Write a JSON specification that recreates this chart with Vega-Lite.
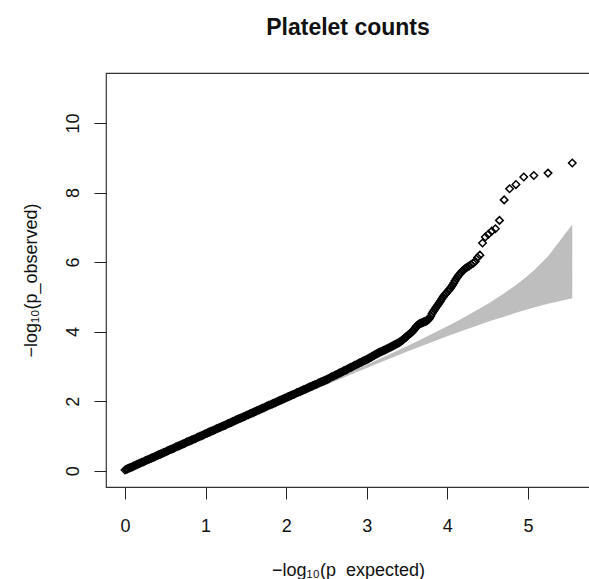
{
  "$schema": "https://vega.github.io/schema/vega-lite/v6.json",
  "autosize": "none",
  "padding": {"left": 106, "top": 73, "right": 0, "bottom": 92},
  "width": 484,
  "height": 414,
  "title": {"text": "Platelet counts", "font": "Liberation Sans", "fontSize": 23, "fontWeight": "bold", "color": "#111", "anchor": "middle", "offset": 33},
  "config": {
    "view": {"stroke": "#333", "strokeWidth": 1.2},
    "axis": {"domain": false, "grid": false, "ticks": true, "tickColor": "#222", "tickSize": 12, "tickWidth": 1,
      "labelFont": "Liberation Sans", "labelFontSize": 18, "labelColor": "#111",
      "titleFont": "Liberation Sans", "titleFontSize": 18, "titleFontWeight": "normal", "titleColor": "#111"}
  },
  "datasets": {
    "band": [
      {"x": 0, "lo": 0, "hi": 0},
      {"x": 1.55, "lo": 1.5415, "hi": 1.5585},
      {"x": 2.0, "lo": 1.986, "hi": 2.014},
      {"x": 2.55, "lo": 2.524, "hi": 2.578},
      {"x": 3.073, "lo": 3.025, "hi": 3.1235},
      {"x": 3.249, "lo": 3.191, "hi": 3.31},
      {"x": 3.55, "lo": 3.469, "hi": 3.639},
      {"x": 3.851, "lo": 3.738, "hi": 3.981},
      {"x": 4.073, "lo": 3.929, "hi": 4.244},
      {"x": 4.249, "lo": 4.078, "hi": 4.463},
      {"x": 4.374, "lo": 4.179, "hi": 4.626},
      {"x": 4.55, "lo": 4.318, "hi": 4.869},
      {"x": 4.705, "lo": 4.431, "hi": 5.101},
      {"x": 4.851, "lo": 4.54, "hi": 5.34},
      {"x": 4.948, "lo": 4.607, "hi": 5.513},
      {"x": 5.073, "lo": 4.691, "hi": 5.759},
      {"x": 5.249, "lo": 4.804, "hi": 6.166},
      {"x": 5.55, "lo": 4.96, "hi": 7.08}
    ],
    "pts": [
      {"x": 0.00, "y": 0.02}, {"x": 0.03, "y": 0.05}, {"x": 0.06, "y": 0.08}, {"x": 0.09, "y": 0.11}, {"x": 0.12, "y": 0.14},
      {"x": 0.15, "y": 0.18}, {"x": 0.18, "y": 0.21}, {"x": 0.21, "y": 0.24}, {"x": 0.24, "y": 0.27}, {"x": 0.27, "y": 0.30},
      {"x": 0.30, "y": 0.33}, {"x": 0.33, "y": 0.36}, {"x": 0.36, "y": 0.39}, {"x": 0.39, "y": 0.43}, {"x": 0.42, "y": 0.46},
      {"x": 0.45, "y": 0.49}, {"x": 0.48, "y": 0.52}, {"x": 0.51, "y": 0.55}, {"x": 0.54, "y": 0.58}, {"x": 0.57, "y": 0.61},
      {"x": 0.60, "y": 0.64}, {"x": 0.63, "y": 0.68}, {"x": 0.66, "y": 0.71}, {"x": 0.69, "y": 0.74}, {"x": 0.72, "y": 0.77},
      {"x": 0.75, "y": 0.80}, {"x": 0.78, "y": 0.83}, {"x": 0.81, "y": 0.86}, {"x": 0.84, "y": 0.89}, {"x": 0.87, "y": 0.92},
      {"x": 0.90, "y": 0.96}, {"x": 0.93, "y": 0.99}, {"x": 0.96, "y": 1.02}, {"x": 0.99, "y": 1.05}, {"x": 1.02, "y": 1.08},
      {"x": 1.05, "y": 1.11}, {"x": 1.08, "y": 1.14}, {"x": 1.11, "y": 1.17}, {"x": 1.14, "y": 1.21}, {"x": 1.17, "y": 1.24},
      {"x": 1.20, "y": 1.27}, {"x": 1.23, "y": 1.30}, {"x": 1.26, "y": 1.33}, {"x": 1.29, "y": 1.36}, {"x": 1.32, "y": 1.39},
      {"x": 1.35, "y": 1.42}, {"x": 1.38, "y": 1.46}, {"x": 1.41, "y": 1.49}, {"x": 1.44, "y": 1.52}, {"x": 1.47, "y": 1.55},
      {"x": 1.50, "y": 1.58}, {"x": 1.53, "y": 1.61}, {"x": 1.56, "y": 1.64}, {"x": 1.59, "y": 1.67}, {"x": 1.62, "y": 1.70},
      {"x": 1.65, "y": 1.74}, {"x": 1.68, "y": 1.77}, {"x": 1.71, "y": 1.80}, {"x": 1.74, "y": 1.83}, {"x": 1.77, "y": 1.86},
      {"x": 1.80, "y": 1.89}, {"x": 1.83, "y": 1.92}, {"x": 1.86, "y": 1.95}, {"x": 1.89, "y": 1.99}, {"x": 1.92, "y": 2.02},
      {"x": 1.95, "y": 2.05}, {"x": 1.98, "y": 2.08}, {"x": 2.01, "y": 2.11}, {"x": 2.04, "y": 2.14}, {"x": 2.07, "y": 2.17},
      {"x": 2.10, "y": 2.20}, {"x": 2.13, "y": 2.24}, {"x": 2.16, "y": 2.27}, {"x": 2.19, "y": 2.30}, {"x": 2.22, "y": 2.33},
      {"x": 2.25, "y": 2.36}, {"x": 2.28, "y": 2.39}, {"x": 2.31, "y": 2.42}, {"x": 2.34, "y": 2.45}, {"x": 2.37, "y": 2.48},
      {"x": 2.40, "y": 2.52}, {"x": 2.43, "y": 2.55}, {"x": 2.46, "y": 2.58}, {"x": 2.49, "y": 2.61}, {"x": 2.52, "y": 2.64},
      {"x": 2.55, "y": 2.68}, {"x": 2.58, "y": 2.71}, {"x": 2.61, "y": 2.75}, {"x": 2.64, "y": 2.78}, {"x": 2.67, "y": 2.82},
      {"x": 2.70, "y": 2.85}, {"x": 2.73, "y": 2.89}, {"x": 2.76, "y": 2.92}, {"x": 2.79, "y": 2.96}, {"x": 2.82, "y": 2.99},
      {"x": 2.85, "y": 3.03}, {"x": 2.88, "y": 3.06}, {"x": 2.91, "y": 3.10}, {"x": 2.94, "y": 3.13}, {"x": 2.97, "y": 3.17},
      {"x": 0.015, "y": 0.04}, {"x": 0.045, "y": 0.07}, {"x": 0.075, "y": 0.10}, {"x": 0.105, "y": 0.13}, {"x": 0.135, "y": 0.16},
      {"x": 0.165, "y": 0.19}, {"x": 0.195, "y": 0.22}, {"x": 0.225, "y": 0.25}, {"x": 0.255, "y": 0.29}, {"x": 0.285, "y": 0.32},
      {"x": 0.315, "y": 0.35}, {"x": 0.345, "y": 0.38}, {"x": 0.375, "y": 0.41}, {"x": 0.405, "y": 0.44}, {"x": 0.435, "y": 0.47},
      {"x": 0.465, "y": 0.50}, {"x": 0.495, "y": 0.53}, {"x": 0.525, "y": 0.57}, {"x": 0.555, "y": 0.60}, {"x": 0.585, "y": 0.63},
      {"x": 0.615, "y": 0.66}, {"x": 0.645, "y": 0.69}, {"x": 0.675, "y": 0.72}, {"x": 0.705, "y": 0.75}, {"x": 0.735, "y": 0.78},
      {"x": 0.765, "y": 0.82}, {"x": 0.795, "y": 0.85}, {"x": 0.825, "y": 0.88}, {"x": 0.855, "y": 0.91}, {"x": 0.885, "y": 0.94},
      {"x": 0.915, "y": 0.97}, {"x": 0.945, "y": 1.00}, {"x": 0.975, "y": 1.03}, {"x": 1.005, "y": 1.07}, {"x": 1.035, "y": 1.10},
      {"x": 1.065, "y": 1.13}, {"x": 1.095, "y": 1.16}, {"x": 1.125, "y": 1.19}, {"x": 1.155, "y": 1.22}, {"x": 1.185, "y": 1.25},
      {"x": 1.215, "y": 1.28}, {"x": 1.245, "y": 1.31}, {"x": 1.275, "y": 1.35}, {"x": 1.305, "y": 1.38}, {"x": 1.335, "y": 1.41},
      {"x": 1.365, "y": 1.44}, {"x": 1.395, "y": 1.47}, {"x": 1.425, "y": 1.50}, {"x": 1.455, "y": 1.53}, {"x": 1.485, "y": 1.56},
      {"x": 1.515, "y": 1.60}, {"x": 1.545, "y": 1.63}, {"x": 1.575, "y": 1.66}, {"x": 1.605, "y": 1.69}, {"x": 1.635, "y": 1.72},
      {"x": 1.665, "y": 1.75}, {"x": 1.695, "y": 1.78}, {"x": 1.725, "y": 1.81}, {"x": 1.755, "y": 1.85}, {"x": 1.785, "y": 1.88},
      {"x": 1.815, "y": 1.91}, {"x": 1.845, "y": 1.94}, {"x": 1.875, "y": 1.97}, {"x": 1.905, "y": 2.00}, {"x": 1.935, "y": 2.03},
      {"x": 1.965, "y": 2.06}, {"x": 1.995, "y": 2.09}, {"x": 2.025, "y": 2.13}, {"x": 2.055, "y": 2.16}, {"x": 2.085, "y": 2.19},
      {"x": 2.115, "y": 2.22}, {"x": 2.145, "y": 2.25}, {"x": 2.175, "y": 2.28}, {"x": 2.205, "y": 2.31}, {"x": 2.235, "y": 2.34},
      {"x": 2.265, "y": 2.38}, {"x": 2.295, "y": 2.41}, {"x": 2.325, "y": 2.44}, {"x": 2.355, "y": 2.47}, {"x": 2.385, "y": 2.50},
      {"x": 2.415, "y": 2.53}, {"x": 2.445, "y": 2.56}, {"x": 2.475, "y": 2.59}, {"x": 2.505, "y": 2.62}, {"x": 2.535, "y": 2.66},
      {"x": 2.565, "y": 2.70}, {"x": 2.595, "y": 2.73}, {"x": 2.625, "y": 2.76}, {"x": 2.655, "y": 2.80}, {"x": 2.685, "y": 2.83},
      {"x": 2.715, "y": 2.87}, {"x": 2.745, "y": 2.90}, {"x": 2.775, "y": 2.94}, {"x": 2.805, "y": 2.97}, {"x": 2.835, "y": 3.01},
      {"x": 2.865, "y": 3.04}, {"x": 2.895, "y": 3.08}, {"x": 2.925, "y": 3.11}, {"x": 2.955, "y": 3.15}, {"x": 2.985, "y": 3.18},
      {"x": 3.00, "y": 3.20}, {"x": 3.025, "y": 3.23}, {"x": 3.05, "y": 3.26}, {"x": 3.075, "y": 3.30}, {"x": 3.10, "y": 3.33},
      {"x": 3.125, "y": 3.36}, {"x": 3.15, "y": 3.39}, {"x": 3.175, "y": 3.42}, {"x": 3.20, "y": 3.45}, {"x": 3.225, "y": 3.47},
      {"x": 3.25, "y": 3.50}, {"x": 3.275, "y": 3.53}, {"x": 3.30, "y": 3.56}, {"x": 3.325, "y": 3.59}, {"x": 3.35, "y": 3.62},
      {"x": 3.375, "y": 3.65}, {"x": 3.40, "y": 3.68}, {"x": 3.42, "y": 3.72}, {"x": 3.44, "y": 3.75}, {"x": 3.46, "y": 3.79},
      {"x": 3.0125, "y": 3.21}, {"x": 3.0375, "y": 3.25}, {"x": 3.0625, "y": 3.28}, {"x": 3.0875, "y": 3.31}, {"x": 3.1125, "y": 3.35},
      {"x": 3.1375, "y": 3.38}, {"x": 3.1625, "y": 3.41}, {"x": 3.1875, "y": 3.43}, {"x": 3.2125, "y": 3.46}, {"x": 3.2375, "y": 3.49},
      {"x": 3.2625, "y": 3.52}, {"x": 3.2875, "y": 3.55}, {"x": 3.3125, "y": 3.58}, {"x": 3.3375, "y": 3.61}, {"x": 3.3625, "y": 3.64},
      {"x": 3.3875, "y": 3.67}, {"x": 3.41, "y": 3.70}, {"x": 3.43, "y": 3.73}, {"x": 3.45, "y": 3.77}, {"x": 3.47, "y": 3.81},
      {"x": 3.49, "y": 3.85}, {"x": 3.51, "y": 3.89}, {"x": 3.53, "y": 3.93}, {"x": 3.55, "y": 3.97}, {"x": 3.57, "y": 4.01},
      {"x": 3.59, "y": 4.07}, {"x": 3.61, "y": 4.13}, {"x": 3.63, "y": 4.18}, {"x": 3.65, "y": 4.22}, {"x": 3.67, "y": 4.24},
      {"x": 3.69, "y": 4.26}, {"x": 3.71, "y": 4.28}, {"x": 3.73, "y": 4.30}, {"x": 3.75, "y": 4.32}, {"x": 3.77, "y": 4.36},
      {"x": 3.48, "y": 3.83}, {"x": 3.50, "y": 3.87}, {"x": 3.52, "y": 3.91}, {"x": 3.54, "y": 3.95}, {"x": 3.56, "y": 3.99},
      {"x": 3.58, "y": 4.04}, {"x": 3.60, "y": 4.10}, {"x": 3.62, "y": 4.16}, {"x": 3.64, "y": 4.20}, {"x": 3.66, "y": 4.23},
      {"x": 3.68, "y": 4.25}, {"x": 3.70, "y": 4.27}, {"x": 3.72, "y": 4.29}, {"x": 3.74, "y": 4.31}, {"x": 3.76, "y": 4.34},
      {"x": 3.78, "y": 4.39}, {"x": 3.795, "y": 4.45}, {"x": 3.81, "y": 4.52}, {"x": 3.825, "y": 4.58}, {"x": 3.84, "y": 4.63},
      {"x": 3.855, "y": 4.68}, {"x": 3.87, "y": 4.73}, {"x": 3.885, "y": 4.78}, {"x": 3.90, "y": 4.83}, {"x": 3.915, "y": 4.88},
      {"x": 3.93, "y": 4.94}, {"x": 3.945, "y": 4.99}, {"x": 3.96, "y": 5.04}, {"x": 3.975, "y": 5.08}, {"x": 3.99, "y": 5.12},
      {"x": 4.005, "y": 5.16}, {"x": 4.02, "y": 5.20}, {"x": 4.035, "y": 5.24}, {"x": 4.05, "y": 5.29}, {"x": 4.065, "y": 5.34},
      {"x": 4.08, "y": 5.40}, {"x": 4.095, "y": 5.46}, {"x": 4.11, "y": 5.52}, {"x": 4.125, "y": 5.57}, {"x": 4.14, "y": 5.62},
      {"x": 4.155, "y": 5.66}, {"x": 4.17, "y": 5.70}, {"x": 4.185, "y": 5.74}, {"x": 4.20, "y": 5.77}, {"x": 4.215, "y": 5.80},
      {"x": 4.23, "y": 5.83}, {"x": 4.249, "y": 5.86}, {"x": 4.272, "y": 5.89}, {"x": 4.295, "y": 5.93}, {"x": 4.321, "y": 5.97},
      {"x": 4.346, "y": 6.02}, {"x": 4.374, "y": 6.13}, {"x": 4.404, "y": 6.20}, {"x": 4.436, "y": 6.55}, {"x": 4.471, "y": 6.72},
      {"x": 4.509, "y": 6.80}, {"x": 4.55, "y": 6.89}, {"x": 4.596, "y": 6.96}, {"x": 4.647, "y": 7.20}, {"x": 4.705, "y": 7.79},
      {"x": 4.772, "y": 8.11}, {"x": 4.851, "y": 8.23}, {"x": 4.948, "y": 8.45}, {"x": 5.073, "y": 8.49}, {"x": 5.249, "y": 8.56},
      {"x": 5.55, "y": 8.85}
    ]
  },
  "layer": [
    {
      "data": {"name": "band"},
      "mark": {"type": "area", "color": "#bebebe", "opacity": 1},
      "encoding": {
        "x": {"field": "x", "type": "quantitative", "scale": {"domain": [-0.236, 5.77], "nice": false, "zero": false},
          "axis": {"values": [0, 1, 2, 3, 4, 5], "format": "d", "title": "−log₁₀(p_expected)", "labelPadding": 18, "titlePadding": 26, "labelFlush": false}},
        "y": {"field": "lo", "type": "quantitative", "scale": {"domain": [-0.47, 11.44], "nice": false, "zero": false},
          "axis": {"values": [0, 2, 4, 6, 8, 10], "format": "d", "title": "−log₁₀(p_observed)", "labelAngle": -90, "labelAlign": "center", "labelBaseline": "alphabetic", "labelPadding": 16, "titlePadding": 24, "labelFlush": false}},
        "y2": {"field": "hi"}
      }
    },
    {
      "data": {"name": "pts"},
      "mark": {"type": "point", "shape": "diamond", "filled": false, "color": "black", "size": 56, "strokeWidth": 1.5, "opacity": 1},
      "encoding": {
        "x": {"field": "x", "type": "quantitative"},
        "y": {"field": "y", "type": "quantitative"}
      }
    }
  ]
}
